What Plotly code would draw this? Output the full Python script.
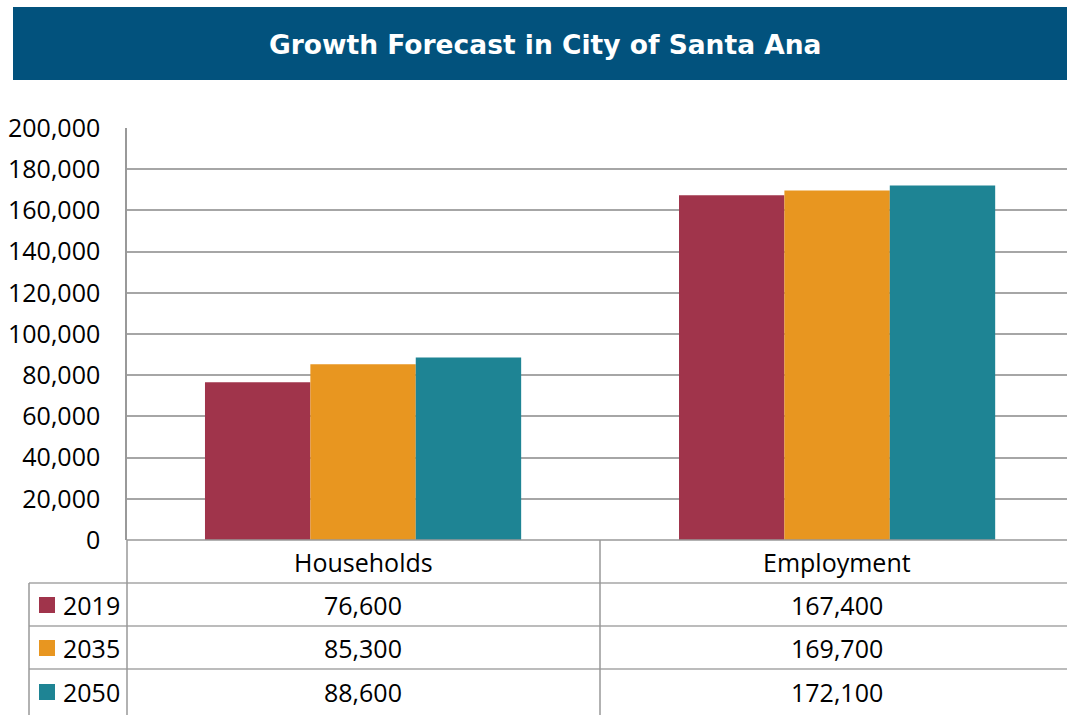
import plotly.graph_objects as go

categories = ["Households", "Employment"]
years = ["2019", "2035", "2050"]
values_2019 = [76600, 167400]
values_2035 = [85300, 169700]
values_2050 = [88600, 172100]
series = [values_2019, values_2035, values_2050]
colors = ["#A0344B", "#E89620", "#1E8494"]
title_text = "Growth Forecast in City of Santa Ana"

W, H = 1067, 715
L, R, T = 127, 0, 128
B = H - 540
PW = W - L - R
PH = H - T - B


def px_x(px):
    return (px - L) / PW


def px_y(py):
    return (H - B - py) / PH


fig = go.Figure()
for yr, vals, col in zip(years, series, colors):
    fig.add_trace(go.Bar(x=categories, y=vals, name=yr, marker=dict(color=col, line=dict(width=0)),
                         showlegend=False))

grid = "#A6A6A6"
line_c = "#999999"
font_fam = "Open Sans, Noto Sans, sans-serif"
fs = 25

shapes = []
shapes.append(dict(type="rect", xref="paper", yref="paper", x0=px_x(13), x1=px_x(1067),
                   y0=px_y(80), y1=px_y(7), fillcolor="#02527D", line=dict(width=0), layer="below"))
for py in [583, 626, 669]:
    shapes.append(dict(type="line", xref="paper", yref="paper", x0=px_x(29), x1=px_x(1067),
                       y0=px_y(py), y1=px_y(py), line=dict(color=grid, width=1.5)))
shapes.append(dict(type="line", xref="paper", yref="paper", x0=px_x(29), x1=px_x(29),
                   y0=px_y(583), y1=px_y(715), line=dict(color=line_c, width=1.5)))
shapes.append(dict(type="line", xref="paper", yref="paper", x0=0, x1=0,
                   y0=0, y1=px_y(715), line=dict(color=line_c, width=1.5)))
shapes.append(dict(type="line", xref="paper", yref="paper", x0=px_x(600), x1=px_x(600),
                   y0=0, y1=px_y(715), line=dict(color=line_c, width=1.5)))
shapes.append(dict(type="line", xref="paper", yref="paper", x0=0, x1=1,
                   y0=0, y1=0, line=dict(color=line_c, width=1.5)))

annotations = []
annotations.append(dict(text="<b>" + title_text + "</b>", xref="paper", yref="paper",
                        x=px_x(545), y=px_y(45), showarrow=False,
                        font=dict(family="DejaVu Sans, sans-serif", size=26.5, color="white"),
                        xanchor="center", yanchor="middle"))
for cat in categories:
    annotations.append(dict(text=cat, xref="x", yref="paper", x=cat, y=px_y(562), showarrow=False,
                            font=dict(family=font_fam, size=fs, color="black"),
                            xanchor="center", yanchor="middle"))
row_y = [605, 648, 692]
for yr, vals, col, ry in zip(years, series, colors, row_y):
    shapes.append(dict(type="rect", xref="paper", yref="paper", x0=px_x(39), x1=px_x(55),
                       y0=px_y(ry + 8), y1=px_y(ry - 8), fillcolor=col, line=dict(width=0)))
    annotations.append(dict(text=yr, xref="paper", yref="paper", x=px_x(61), y=px_y(ry),
                            showarrow=False, font=dict(family=font_fam, size=fs, color="black"),
                            xanchor="left", yanchor="middle"))
    for cat, v in zip(categories, vals):
        annotations.append(dict(text=f"{v:,}", xref="x", yref="paper", x=cat, y=px_y(ry),
                                showarrow=False, font=dict(family=font_fam, size=fs, color="black"),
                                xanchor="center", yanchor="middle"))

fig.update_layout(
    width=W, height=H,
    margin=dict(l=L, r=R, t=T, b=B),
    paper_bgcolor="white", plot_bgcolor="white",
    barmode="group", bargap=0.333, bargroupgap=0,
    shapes=shapes, annotations=annotations,
    xaxis=dict(showticklabels=False, showgrid=False, zeroline=False, showline=False,
               range=[-0.498, 1.485]),
    yaxis=dict(range=[0, 200000], dtick=20000, tickformat=",", showgrid=True, gridcolor=grid,
               gridwidth=1.5, zeroline=False, showline=True, linecolor=line_c, linewidth=1.5,
               ticks="", ticklabelstandoff=20,
               tickfont=dict(family=font_fam, size=fs, color="black")),
)

fig.write_html(
    "out.html",
    config={"displayModeBar": False},
    post_script="document.documentElement.style.overflow='hidden';"
                "document.body.style.margin='0';document.body.style.overflow='hidden';",
)
